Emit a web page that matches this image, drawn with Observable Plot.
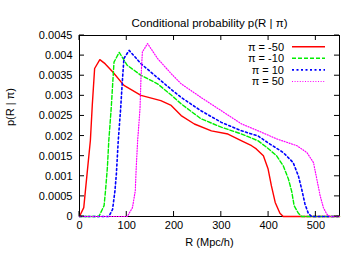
<!DOCTYPE html>
<html><head><meta charset="utf-8">
<script src="https://cdn.jsdelivr.net/npm/d3@7"></script>
<script src="https://cdn.jsdelivr.net/npm/@observablehq/plot@0.6"></script>
<style>body{margin:0;background:#fff}</style>
</head><body><div id="chart"></div>
<script>
const titleText = "Conditional probability p(R | π)";
const xLabel = "R (Mpc/h)";
const yLabel = "p(R | π)";
const xTicks = [0, 100, 200, 300, 400, 500];
const yTicks = [0, 0.0005, 0.001, 0.0015, 0.002, 0.0025, 0.003, 0.0035, 0.004, 0.0045];
const seriesNames = ["π = -50", "π = -10", "π = 10", "π = 50"];
const seriesColors = ["#ff0000", "#00ee00", "#0000ff", "#ff00ff"];
const seriesDash = [null, "4,2", "2,2.5", "1,1.6"];
const seriesWidth = [1.4, 1.4, 1.6, 1.2];

const R_m50 = [0, 9, 16, 23, 27, 32, 43, 54, 70, 94, 130, 172, 194, 215, 243, 279, 314, 343, 364, 374, 389, 399, 406, 414, 424, 431, 550];
const P_m50 = [0, 0.00022, 0.00106, 0.00189, 0.00276, 0.00368, 0.0039, 0.0038, 0.0036, 0.00326, 0.00301, 0.00288, 0.00276, 0.00251, 0.0023, 0.00213, 0.00205, 0.00188, 0.00176, 0.00168, 0.00151, 0.00118, 0.00076, 0.00035, 0.00008, 0, 0];

const R_m10 = [0, 41, 52, 55, 59, 62, 67, 73, 84, 101, 130, 165, 194, 215, 257, 300, 343, 378, 396, 417, 431, 442, 449, 454, 463, 470, 550];
const P_m10 = [0, 0, 0.00027, 0.00064, 0.00122, 0.00189, 0.00268, 0.00384, 0.00408, 0.00376, 0.00351, 0.0033, 0.00302, 0.0028, 0.00243, 0.00222, 0.00205, 0.00188, 0.00172, 0.00151, 0.00126, 0.00093, 0.00062, 0.00027, 0.00008, 0, 0];

const R_p10 = [0, 62, 70, 75, 78, 82, 87, 91, 94, 105, 130, 165, 194, 215, 257, 300, 343, 378, 403, 431, 452, 463, 470, 477, 484, 491, 550];
const P_p10 = [0, 0, 0.00018, 0.00064, 0.00106, 0.00189, 0.00268, 0.00343, 0.00393, 0.00413, 0.0038, 0.00345, 0.00316, 0.00296, 0.00263, 0.00234, 0.00213, 0.002, 0.0018, 0.00159, 0.00134, 0.00101, 0.00068, 0.00031, 0.00008, 0, 0];

const R_p50 = [0, 101, 112, 118, 120, 123, 128, 130, 133, 144, 165, 194, 215, 257, 300, 343, 378, 417, 460, 481, 495, 502, 509, 516, 523, 530, 550];
const P_p50 = [0, 0, 0.00022, 0.00064, 0.00122, 0.00189, 0.00268, 0.00343, 0.00409, 0.0043, 0.00393, 0.00355, 0.0033, 0.00296, 0.00263, 0.0023, 0.00213, 0.00193, 0.00176, 0.00159, 0.00134, 0.00093, 0.00052, 0.00022, 0.00006, 0, 0];

const allR = [R_m50, R_m10, R_p10, R_p50];
const allP = [P_m50, P_m10, P_p10, P_p50];
const tables = allR.map((rs, i) => rs.map((r, j) => ({R: r, p: allP[i][j], s: seriesNames[i]})));

const fmtY = d => String(+d.toFixed(4));
const font = "'Liberation Sans', Arial, Helvetica, sans-serif";

const chart = Plot.plot({
  width: 360, height: 253,
  marginTop: 35, marginRight: 21, marginBottom: 37, marginLeft: 79,
  style: {fontFamily: font, fontSize: "11px", background: "white", color: "black"},
  x: {domain: [0, 550]},
  y: {domain: [0, 0.0045]},
  marks: [
    Plot.axisX(xTicks, {tickSize: 0, tickPadding: 5, label: null, fontSize: 11}),
    Plot.axisY(yTicks, {tickSize: 0, tickPadding: 7, label: null, tickFormat: fmtY, fontSize: 11}),
    Plot.frame({stroke: "black", strokeWidth: 1}),
    ...tables.map((t, i) => Plot.line(t, {x: "R", y: "p", stroke: seriesColors[i], strokeWidth: seriesWidth[i], strokeDasharray: seriesDash[i]})),
    Plot.text([titleText], {frameAnchor: "top", dy: -17, fontSize: 11.5}),
    Plot.text([yLabel], {frameAnchor: "left", rotate: -90, dx: -69, fontSize: 11}),
    Plot.text([xLabel], {frameAnchor: "bottom", dy: 29, fontSize: 11})
  ]
});

// inward mirrored ticks and legend
const svg = d3.select(chart);
const sx = v => chart.scale("x").apply(v);
const sy = v => chart.scale("y").apply(v);
const [x0, x1] = chart.scale("x").range;
const [y0, y1] = chart.scale("y").range; // y0 bottom, y1 top
const tl = 5;
const g = svg.append("g").attr("stroke", "black").attr("stroke-width", 1);
xTicks.forEach(v => {
  const x = sx(v);
  g.append("line").attr("x1", x).attr("x2", x).attr("y1", y0).attr("y2", y0 - tl);
  g.append("line").attr("x1", x).attr("x2", x).attr("y1", y1).attr("y2", y1 + tl);
});
yTicks.forEach(v => {
  const y = sy(v);
  g.append("line").attr("x1", x0).attr("x2", x0 + tl).attr("y1", y).attr("y2", y);
  g.append("line").attr("x1", x1).attr("x2", x1 - tl).attr("y1", y).attr("y2", y);
});
const lg = svg.append("g").attr("font-family", font).attr("font-size", 11);
seriesNames.forEach((name, i) => {
  const y = y1 + 11.7 + i * 11.6;
  lg.append("text").attr("x", x1 - 55).attr("y", y).attr("dy", "0.35em").attr("text-anchor", "end").attr("fill", "black").text(name);
  lg.append("line").attr("x1", x1 - 47).attr("x2", x1 - 14).attr("y1", y).attr("y2", y)
    .attr("stroke", seriesColors[i]).attr("stroke-width", seriesWidth[i]).attr("stroke-dasharray", seriesDash[i]);
});
document.getElementById("chart").appendChild(chart);
</script>
</body></html>
